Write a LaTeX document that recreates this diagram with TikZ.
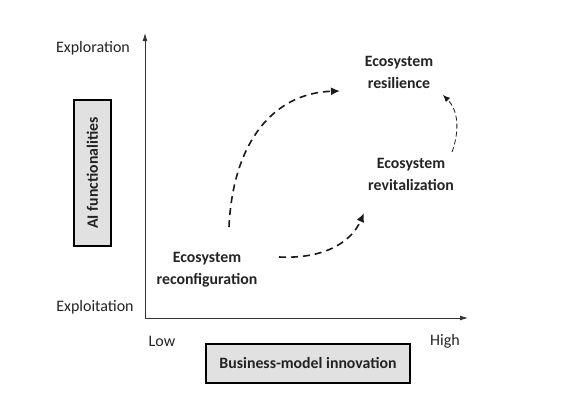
\documentclass[tikz,border=0pt]{standalone}
\usepackage{fontspec}
\setmainfont{Carlito}
\usetikzlibrary{arrows.meta}
\definecolor{boxgray}{RGB}{225,225,225}
\definecolor{txt}{RGB}{35,35,35}
\begin{document}
\begin{tikzpicture}[x=1pt,y=-1pt,
  lbl/.style={font=\fontsize{16}{22}\selectfont, text=txt, inner sep=0pt},
  blbl/.style={font=\fontsize{15.8}{22}\selectfont\bfseries, text=txt, inner sep=0pt, align=center},
  axis/.style={draw=black!80, line width=0.9pt, -{Latex[length=8pt,width=5pt]}},
  graybox/.style={draw=black, line width=2pt, fill=boxgray, inner sep=0pt},
  thickdash/.style={draw=black!90, line width=1.6pt, dash pattern=on 7pt off 5pt, -{Latex[length=9pt,width=8pt]}},
  thindash/.style={draw=black!90, line width=0.8pt, dash pattern=on 5pt off 3pt, -{Latex[length=7pt,width=6pt]}}]
\useasboundingbox (0,0) rectangle (587,415);
\coordinate (o) at (145,318);
\coordinate (ytop) at (145,33);
\coordinate (xend) at (468,318);
\draw[axis] (o) -- (ytop);
\draw[axis] (o) -- (xend);
\node[lbl] (explor) at (93,48) {Exploration};
\node[lbl] (exploit) at (95,307) {Exploitation};
\node[lbl] (low) at (162,341) {Low};
\node[lbl] (high) at (445,341) {High};
\node[graybox, minimum width=37pt, minimum height=146pt] (ai) at (92.5,173) {};
\node[blbl, rotate=90] (ait) at (ai.center) {AI functionalities};
\node[graybox, minimum width=204pt, minimum height=39pt] (bm) at (308,363.5) {};
\node[blbl] (bmt) at (bm.center) {Business-model innovation};
\node[blbl] (reconf) at (207,269.5) {Ecosystem\\reconfiguration};
\node[blbl] (resil) at (399,72.5) {Ecosystem\\resilience};
\node[blbl] (revit) at (411,174) {Ecosystem\\revitalization};
\coordinate (a1s) at (229,227);
\coordinate (a1e) at (340,91);
\coordinate (a2s) at (279,257);
\coordinate (a2e) at (364,213);
\coordinate (a3s) at (452,152);
\coordinate (a3e) at (443,95);
\draw[thickdash] (a1s) .. controls (233,140) and (275,93) .. (a1e);
\draw[thickdash] (a2s) .. controls (320,259) and (350,245) .. (a2e);
\draw[thindash] (a3s) .. controls (460,130) and (458,110) .. (a3e);
\end{tikzpicture}
\end{document}
